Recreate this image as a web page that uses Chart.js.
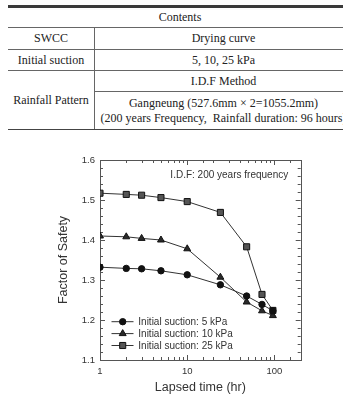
<!DOCTYPE html>
<html lang="en">
<head>
<meta charset="UTF-8">
<title>Factor of Safety vs Lapsed time</title>
<script src="https://cdn.jsdelivr.net/npm/chart.js"></script>
<style>
  html, body { margin: 0; padding: 0; background: #fff; }
  body { width: 343px; height: 405px; overflow: hidden; position: relative; }
  .tbl { position: absolute; left: 0; top: 0; width: 343px; height: 135px; overflow: hidden;
         font-family: "Liberation Serif", "Times New Roman", serif; font-size: 12px; color: #222; }
  .ln { position: absolute; background: #666; }
  .cell { position: absolute; text-align: center; white-space: pre; }
  #wrap { position: absolute; left: 0; top: 140px; width: 343px; height: 265px; }
</style>
</head>
<body>
<div class="tbl">
  <div class="ln" style="left:8px; top:5px; width:344px; height:2.5px; background:#3a3a3a"></div>
  <div class="ln" style="left:8px; top:27px; width:344px; height:1px"></div>
  <div class="ln" style="left:8px; top:49px; width:344px; height:1px"></div>
  <div class="ln" style="left:8px; top:70px; width:344px; height:1px"></div>
  <div class="ln" style="left:94px; top:91px; width:258px; height:1px"></div>
  <div class="ln" style="left:8px; top:129px; width:344px; height:1px; background:#444"></div>
  <div class="ln" style="left:94px; top:27px; width:1px; height:102px"></div>

  <div class="cell" style="left:8px; width:344px; top:7px; line-height:20px">Contents</div>
  <div class="cell" style="left:8px; width:86px; top:28px; line-height:21px">SWCC</div>
  <div class="cell" style="left:95px; width:257px; top:28px; line-height:21px">Drying curve</div>
  <div class="cell" style="left:8px; width:86px; top:50px; line-height:20px">Initial suction</div>
  <div class="cell" style="left:95px; width:257px; top:50px; line-height:20px">5, 10, 25 kPa</div>
  <div class="cell" style="left:8px; width:86px; top:71px; line-height:58px">Rainfall Pattern</div>
  <div class="cell" style="left:95px; width:257px; top:71px; line-height:20px">I.D.F Method</div>
  <div class="cell" style="left:95px; width:257px; top:96px; line-height:15px">Gangneung (527.6mm × 2=1055.2mm)
(200 years Frequency,  Rainfall duration: 96 hours)</div>
</div>

<div id="wrap"><canvas id="fsChart" width="343" height="265"></canvas></div>

<script>
// lapsed time (hr)
const hours = [1, 2, 3, 5, 10, 24, 48, 72, 96];
// factor of safety for each initial suction
const fsSuction5 = [1.332, 1.329, 1.328, 1.323, 1.313, 1.288, 1.260, 1.239, 1.223];
const fsSuction10 = [1.410, 1.408, 1.404, 1.400, 1.378, 1.307, 1.245, 1.223, 1.211];
const fsSuction25 = [1.517, 1.514, 1.512, 1.506, 1.496, 1.469, 1.383, 1.264, 1.224];
const seriesLabels = ['Initial suction: 5 kPa', 'Initial suction: 10 kPa', 'Initial suction: 25 kPa'];
const xLabelTicks = [1, 10, 100];
const yMin = 1.1, yMax = 1.6;
const noteText = 'I.D.F: 200 years frequency';

const toPts = arr => hours.map((h, i) => ({ x: h, y: arr[i] }));

// frame + inward ticks on all four sides
const framePlugin = {
  id: 'frame',
  beforeDatasetsDraw(chart) {
    const { ctx, chartArea: a, scales: { x, y } } = chart;
    ctx.save();
    ctx.strokeStyle = '#555';
    ctx.lineWidth = 1;
    ctx.strokeRect(Math.round(a.left) + 0.5, Math.round(a.top) + 0.5,
                   Math.round(a.right - a.left), Math.round(a.bottom - a.top));
    ctx.beginPath();
    // y ticks every 0.02, major every 0.1
    for (let k = 0; k <= 25; k++) {
      const v = yMin + k * 0.02;
      const py = Math.round(y.getPixelForValue(v)) + 0.5;
      const len = (k % 5 === 0) ? 5 : 3;
      ctx.moveTo(a.left, py); ctx.lineTo(a.left + len, py);
      ctx.moveTo(a.right, py); ctx.lineTo(a.right - len, py);
    }
    x.ticks.forEach(t => {
      if (t.value <= x.min || t.value >= x.max) return;
      const px = Math.round(x.getPixelForValue(t.value)) + 0.5;
      const len = xLabelTicks.includes(t.value) ? 5 : 3;
      ctx.moveTo(px, a.bottom); ctx.lineTo(px, a.bottom - len);
      ctx.moveTo(px, a.top); ctx.lineTo(px, a.top + len);
    });
    ctx.stroke();
    ctx.restore();
  },
  afterDraw(chart) {
    const { ctx, chartArea: a } = chart;
    ctx.save();
    // note at top right
    ctx.fillStyle = '#333';
    ctx.font = '10px "Liberation Sans", Arial, sans-serif';
    ctx.textAlign = 'right';
    ctx.textBaseline = 'middle';
    ctx.fillText(noteText, a.right - 12.5, a.top + 15);
    // legend, bottom left inside the plot
    const rowY = [181.7, 193.6, 205.5];
    chart.data.datasets.forEach((ds, i) => {
      const yy = rowY[i];
      ctx.strokeStyle = ds.borderColor;
      ctx.lineWidth = 1;
      ctx.beginPath();
      ctx.moveTo(111.5, yy); ctx.lineTo(133.5, yy);
      ctx.stroke();
      ctx.fillStyle = ds.pointBackgroundColor;
      ctx.strokeStyle = ds.pointBorderColor;
      ctx.lineWidth = ds.pointBorderWidth;
      Chart.helpers.drawPoint(ctx, { pointStyle: ds.pointStyle, radius: ds.pointRadius, borderWidth: ds.pointBorderWidth, rotation: 0 }, 122.7, yy);
      ctx.fillStyle = '#333';
      ctx.textAlign = 'left';
      ctx.fillText(ds.label, 138.3, yy + 0.5);
    });
    ctx.restore();
  }
};

const common = { borderColor: '#333', borderWidth: 1, pointBorderColor: '#111', pointBorderWidth: 1, tension: 0 };

new Chart(document.getElementById('fsChart').getContext('2d'), {
  type: 'line',
  data: {
    datasets: [
      { ...common, label: seriesLabels[0], data: toPts(fsSuction5), pointStyle: 'circle', pointRadius: 3.2, pointBackgroundColor: '#111' },
      { ...common, label: seriesLabels[1], data: toPts(fsSuction10), pointStyle: 'triangle', pointRadius: 4, pointBackgroundColor: '#2a2a2a' },
      { ...common, label: seriesLabels[2], data: toPts(fsSuction25), pointStyle: 'rect', pointRadius: 4.3, pointBackgroundColor: '#555' }
    ]
  },
  options: {
    responsive: false,
    animation: false,
    layout: { padding: { top: 20, right: 42.3, left: 0, bottom: 0 } },
    plugins: { legend: { display: false }, tooltip: { enabled: false } },
    scales: {
      x: {
        type: 'logarithmic',
        min: 1, max: 200,
        grid: { display: false, drawTicks: false },
        border: { display: false },
        ticks: {
          autoSkip: false, maxRotation: 0, padding: 6,
          color: '#333', font: { family: '"Liberation Sans", Arial, sans-serif', size: 9.5 },
          callback: v => xLabelTicks.includes(v) ? String(v) : ''
        },
        title: {
          display: true, text: 'Lapsed time (hr)', color: '#333',
          font: { family: '"Liberation Sans", Arial, sans-serif', size: 12.5 },
          padding: { top: 0, bottom: 9.5 }
        },
        afterFit: s => { s.height = 45; }
      },
      y: {
        min: yMin, max: yMax,
        grid: { display: false, drawTicks: false },
        border: { display: false },
        ticks: {
          stepSize: 0.1, padding: 5,
          color: '#333', font: { family: '"Liberation Sans", Arial, sans-serif', size: 9.5 },
          callback: v => v.toFixed(1)
        },
        title: {
          display: true, text: 'Factor of Safety', color: '#333',
          font: { family: '"Liberation Sans", Arial, sans-serif', size: 12.5 },
          padding: { top: 56.5, bottom: 0 }
        },
        afterFit: s => { s.width = 100; }
      }
    }
  },
  plugins: [framePlugin]
});
</script>
</body>
</html>
